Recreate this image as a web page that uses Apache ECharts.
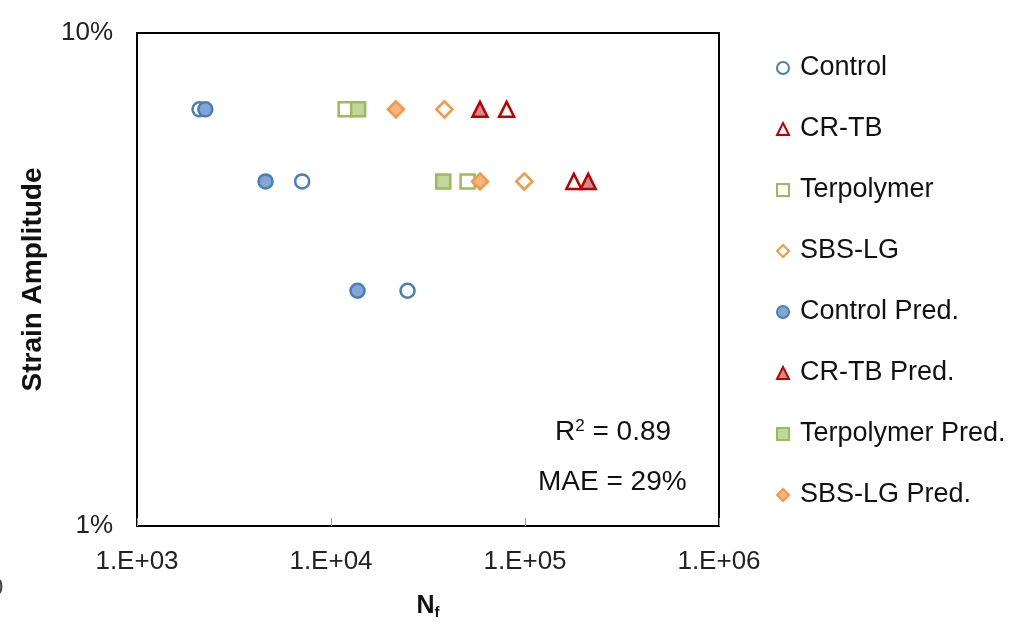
<!DOCTYPE html>
<html>
<head>
<meta charset="utf-8">
<script src="https://cdn.jsdelivr.net/npm/echarts@6/dist/echarts.min.js"></script>
<style>
  html, body { margin: 0; padding: 0; background: #fff; }
  #chart { width: 1019px; height: 628px; }
</style>
</head>
<body>
<div id="chart"></div>
<script>
// Strain amplitude (%) against cycles to failure, measured vs. predicted
const strainLevels = [7, 5, 3];

const controlN      = [2100, 7100, 24800];
const controlPredN  = [2250, 4600, 13700];
const crtbN         = [80400, 178600];
const crtbPredN     = [58600, 211700];
const terpN         = [11900, 50600];
const terpPredN     = [13800, 37900];
const sbsN          = [38400, 99100];
const sbsPredN      = [21600, 58600];

const xTicks = [1e3, 1e4, 1e5, 1e6];
const yTicks = [1, 10];

const statsText = ['R{sup|2} = 0.89', 'MAE = 29%'];

const pair = (ns) => ns.map((n, i) => [n, strainLevels[i]]);

const font = 'Liberation Sans, Arial, sans-serif';

function series(name, ns, symbol, size, border, fill) {
  return {
    name: name,
    type: 'scatter',
    data: pair(ns),
    symbol: symbol,
    symbolSize: size,
    itemStyle: { color: fill, borderColor: border, borderWidth: 2.5, opacity: 1 },
    emphasis: { disabled: true },
    z: 2
  };
}

const BLUE = '#4a7ebb', RED = '#c00000', GREEN = '#9bbb59', ORANGE = '#f79646';

const chart = echarts.init(document.getElementById('chart'), null, { renderer: 'canvas' });

chart.setOption({
  animation: false,
  backgroundColor: '#fff',
  textStyle: { fontFamily: font },
  grid: {
    left: 137, right: 300, top: 33, bottom: 102,
    show: true, borderColor: '#000', borderWidth: 2, backgroundColor: 'transparent'
  },
  legend: {
    orient: 'vertical',
    left: 771, top: 48,
    itemWidth: 12, itemHeight: 12, itemGap: 31,
    selectedMode: false,
    textStyle: { fontSize: 27, color: '#111', fontFamily: font, lineHeight: 30, padding: [0, 0, 0, 6] },
    data: ['Control', 'CR-TB', 'Terpolymer', 'SBS-LG',
           'Control Pred.', 'CR-TB Pred.', 'Terpolymer Pred.', 'SBS-LG Pred.']
  },
  xAxis: {
    type: 'log', logBase: 10, min: xTicks[0], max: xTicks[xTicks.length - 1],
    name: '{b|N}{s|f}',
    nameLocation: 'middle', nameGap: 67,
    nameTextStyle: {
      rich: {
        b: { fontSize: 25, fontWeight: 'bold', color: '#111', fontFamily: font },
        s: { fontSize: 15, fontWeight: 'bold', color: '#111', fontFamily: font, verticalAlign: 'bottom', padding: [12, 0, 0, 0] }
      }
    },
    axisLine: { show: true, lineStyle: { color: '#000', width: 2 } },
    axisTick: { show: true, inside: true, length: 8, lineStyle: { color: '#999', width: 1 } },
    axisLabel: {
      fontSize: 26, color: '#222', margin: 23, fontFamily: font,
      formatter: (v) => '1.E+' + String(Math.round(Math.log10(v))).padStart(2, '0')
    },
    splitLine: { show: false }
  },
  yAxis: {
    type: 'log', logBase: 10, min: yTicks[0], max: yTicks[yTicks.length - 1],
    name: 'Strain Amplitude',
    nameLocation: 'middle', nameGap: 90, nameRotate: 90,
    nameTextStyle: { fontSize: 28, fontWeight: 'bold', color: '#111', fontFamily: font },
    axisLine: { show: true, lineStyle: { color: '#000', width: 2 } },
    axisTick: { show: false },
    axisLabel: { fontSize: 26, color: '#222', margin: 24, fontFamily: font, formatter: (v) => v + '%' },
    splitLine: { show: false }
  },
  graphic: [
    {
      type: 'text', left: 555, top: 418,
      style: {
        text: statsText[0], fontSize: 28, fill: '#111', fontFamily: font,
        rich: { sup: { fontSize: 17, verticalAlign: 'top', padding: [0, 0, 11, 0], fill: '#111', fontFamily: font } }
      }
    },
    {
      type: 'text', left: 538, top: 468,
      style: { text: statsText[1], fontSize: 28, fill: '#111', fontFamily: font }
    },
    {
      type: 'text', left: -10, top: 576,
      style: { text: '0', fontSize: 24, fill: '#444', fontFamily: font }
    }
  ],
  series: [
    series('Control', controlN, 'circle', 14, BLUE, '#fff'),
    series('CR-TB', crtbN, 'triangle', 15, RED, '#fff'),
    series('Terpolymer', terpN, 'rect', 14, GREEN, '#fff'),
    series('SBS-LG', sbsN, 'diamond', 16, ORANGE, '#fff'),
    series('Control Pred.', controlPredN, 'circle', 14, BLUE, '#85a5d3'),
    series('CR-TB Pred.', crtbPredN, 'triangle', 15, RED, '#d08c8c'),
    series('Terpolymer Pred.', terpPredN, 'rect', 14, GREEN, '#c4d79b'),
    series('SBS-LG Pred.', sbsPredN, 'diamond', 16, ORANGE, '#f9b57f')
  ]
});
</script>
</body>
</html>
